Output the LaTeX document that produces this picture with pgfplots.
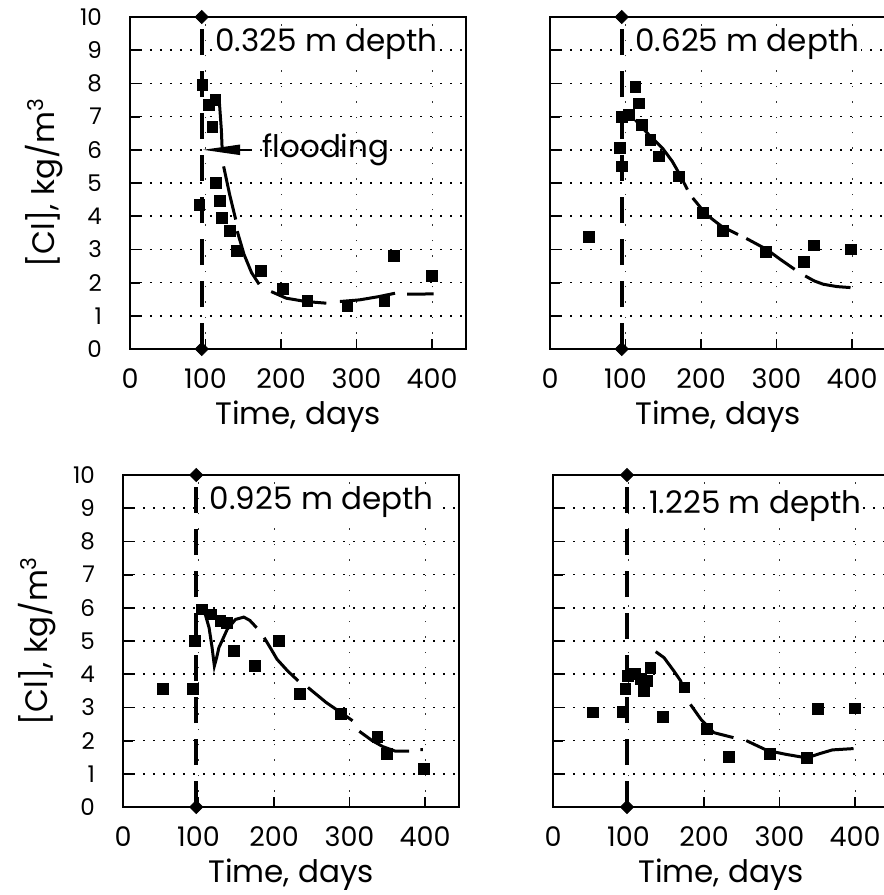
\documentclass[border=0pt]{standalone}
\usepackage{fontspec}
\setmainfont{Poppins}
\usepackage{pgfplots}
\pgfplotsset{compat=1.18}
\usetikzlibrary{arrows.meta}

\tikzset{lab/.style={anchor=west, fill=white, inner sep=1pt, font=\fontsize{15.5}{15.5}\selectfont}}
\pgfplotsset{
  panel/.style={
    scale only axis, width=168pt, height=166pt,
    xmin=0, xmax=445, ymin=0, ymax=10,
    xtick={0,100,200,300,400}, ytick={0,1,...,10},
    tick align=inside, tick pos=left,
    major tick length=5pt,
    axis line style={line width=1pt},
    every tick/.style={line width=0.9pt, black},
    /pgf/number format/assume math mode=true,
    xticklabel style={font=\fontsize{13.5}{13.5}\selectfont, yshift=-6.5pt},
    yticklabel style={font=\fontsize{11.5}{12}\selectfont, xshift=-10.5pt},
    xlabel={Time, days},
    every axis x label/.style={at={(rel axis cs:0.5,0)}, anchor=center, yshift=-34pt, font=\fontsize{15.5}{15.5}\selectfont},
    every axis y label/.style={at={(rel axis cs:0,0.5)}, xshift=-43pt, rotate=90, anchor=center, font=\fontsize{15.5}{15.5}\selectfont},
    xmajorgrids, ymajorgrids,
    x grid style={line width=0.5pt, dash pattern=on 0.7pt off 7pt, black!80},
    y grid style={line width=0.8pt, dash pattern=on 1pt off 4pt, black},
    clip=false,
  },
  flood/.style={line width=2.2pt, dash pattern=on 13pt off 8pt},
  diam/.style={only marks, mark=square*, mark size=2.3pt, mark options={fill=black, rotate=45}},
  sq/.style={only marks, mark=square*, mark size=2.7pt, mark options={fill=black}},
  model/.style={line width=1.5pt, unbounded coords=jump, mark=none},
}

\begin{document}
\begin{tikzpicture}
\useasboundingbox (0,0) rectangle (442pt,-447.5pt);
\clip (0,0) rectangle (442pt,-447.5pt);

% ---------- top left: 0.325 m ----------
\begin{axis}[panel, at={(65pt,-174.5pt)}, anchor=south west,
  ylabel={[Cl], kg/m\textsuperscript{3}}]
\addplot[flood] coordinates {(95,0) (95,10)};
\addplot[diam] coordinates {(95,0) (95,10)};
\node[lab] at (axis cs:110,9.2) {0.325 m depth};
\addplot[sq] coordinates {
(92,4.35) (96,7.95) (104,7.35) (113,7.5) (109,6.7) (114,5.0) (119,4.45)
(122,3.95) (132,3.55) (142,2.95) (173,2.35) (202,1.8) (235,1.45)
(288,1.3) (337,1.45) (350,2.8) (400,2.2)};
\addplot[model] coordinates {
(118,7.55) (121,6.6) (122,6.05) (123,nan)
(124,5.5) (132,4.65) (140,3.9) (141,nan)
(142,3.55) (151,2.85) (161,2.3) (171,1.95) (180,nan)
(187,1.73) (207,1.53) (233,1.43) (260,1.38) (270,nan)
(278,1.43) (304,1.48) (330,1.58) (351,1.68) (360,nan)
(367,1.65) (402,1.66)};
\fill (axis cs:97,6) -- (axis cs:146,6.16) -- (axis cs:146,5.84) -- cycle;
\draw[line width=1.3pt] (axis cs:140,6) -- (axis cs:160,6);
\node[anchor=west, inner sep=0pt, font=\fontsize{15.5}{15.5}\selectfont] at (axis cs:175,6) {flooding};
\end{axis}

% ---------- top right: 0.625 m ----------
\begin{axis}[panel, at={(275pt,-174.5pt)}, anchor=south west, yticklabels={}]
\addplot[flood] coordinates {(95,0) (95,10)};
\addplot[diam] coordinates {(95,0) (95,10)};
\node[lab] at (axis cs:110,9.2) {0.625 m depth};
\addplot[sq] coordinates {
(51,3.37) (95,7.0) (104,7.05) (93,6.05) (95,5.5) (113,7.9) (118,7.4)
(122,6.75) (133,6.3) (144,5.8) (171,5.2) (202,4.1) (229,3.55)
(286,2.93) (336,2.63) (349,3.12) (398,3.0)};
\addplot[model] coordinates {
(113,6.9) (131,6.45) (149,6.05) (162,5.65) (172,5.25) (182,4.8) (185,nan)
(189,4.55) (207,4.05) (227,3.7) (249,3.45) (255,nan)
(260,3.33) (287,3.0) (305,2.7) (324,2.4) (330,nan)
(338,2.2) (350,2.05) (362,1.95) (380,1.88) (398,1.85)};
\end{axis}

% ---------- bottom left: 0.925 m ----------
\begin{axis}[panel, at={(61.5pt,-403.5pt)}, anchor=south west,
  ylabel={[Cl], kg/m\textsuperscript{3}}]
\addplot[flood] coordinates {(97,0) (97,10)};
\addplot[diam] coordinates {(97,0) (97,10)};
\node[lab] at (axis cs:112,9.2) {0.925 m depth};
\addplot[sq] coordinates {
(53,3.55) (93,3.55) (95,5.0) (105,5.95) (116,5.8) (129,5.6) (138,5.55)
(147,4.7) (175,4.25) (206,5.0) (234,3.4) (289,2.8) (337,2.1)
(350,1.6) (399,1.15)};
\addplot[model] coordinates {
(99,6.0) (109,5.8) (114,5.4) (118,4.8) (121,4.25) (124,4.5) (127,4.8)
(138,5.35) (149,5.65) (160,5.72) (168,5.62) (177,5.4) (182,nan)
(187,5.1) (195,4.8) (204,4.45) (218,4.1) (232,3.8) (238,nan)
(245,3.6) (269,3.15) (304,2.6) (308,nan)
(313,2.28) (330,2.0) (344,1.82) (361,1.68) (379,1.68) (386,nan)
(394,1.73) (397,1.73)};
\end{axis}

% ---------- bottom right: 1.225 m ----------
\begin{axis}[panel, at={(276.5pt,-403.5pt)}, anchor=south west, yticklabels={}]
\addplot[flood] coordinates {(98,0) (98,10)};
\addplot[diam] coordinates {(98,0) (98,10)};
\node[lab] at (axis cs:124,9.07) {1.225 m depth};
\addplot[sq] coordinates {
(53,2.85) (93,2.87) (96,3.55) (99,3.95) (108,4.0) (116,3.85) (120,3.5)
(124,3.8) (129,4.2) (146,2.72) (174,3.6) (204,2.35) (233,1.52)
(287,1.6) (336,1.48) (351,2.95) (400,2.97)};
\addplot[model] coordinates {
(136,4.68) (147,4.5) (160,4.1) (169,3.8) (174,3.5) (178,nan)
(182,3.09) (196,2.64) (213,2.24) (239,2.09) (248,nan)
(256,2.0) (284,1.7) (310,1.58) (336,1.48) (355,1.62) (370,1.72) (398,1.76)};
\end{axis}
\end{tikzpicture}
\end{document}
